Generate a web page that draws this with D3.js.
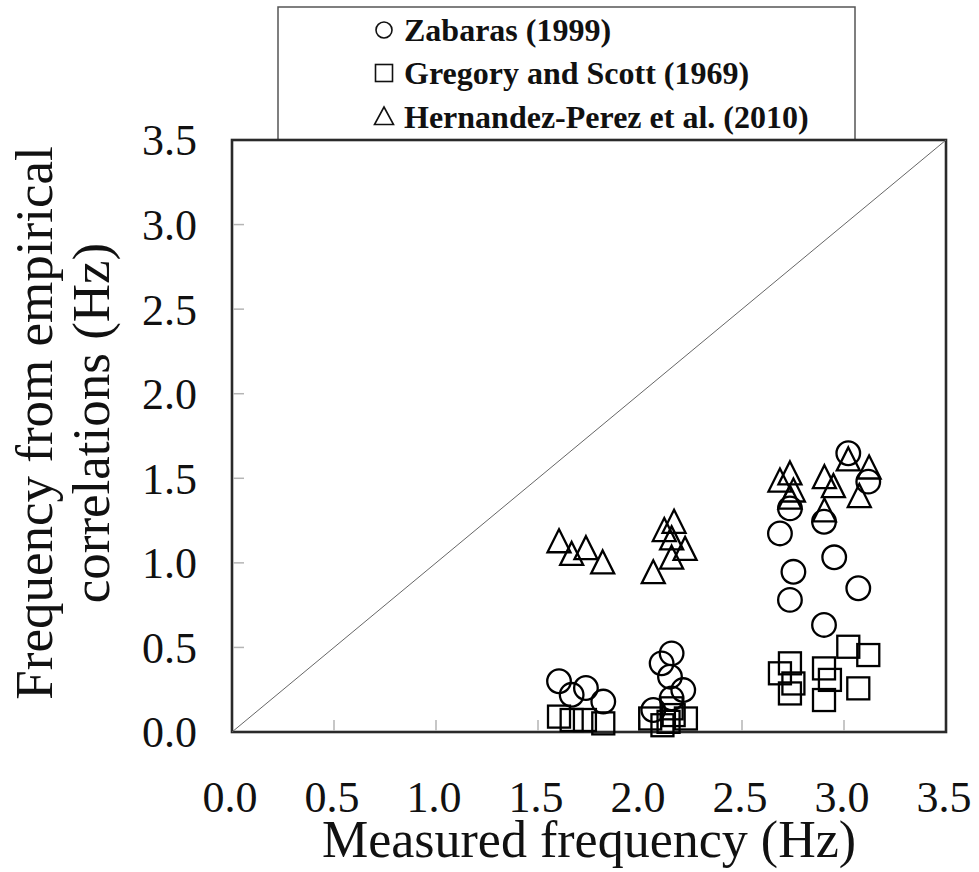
<!DOCTYPE html>
<html><head><meta charset="utf-8">
<script src="https://cdn.jsdelivr.net/npm/d3@7"></script>
<style>body{margin:0;background:#fff;}svg{display:block;}</style>
</head><body>
<svg id="chart" width="979" height="872"></svg>
<script>
// ---- data ----
const seriesNames = ["Zabaras (1999)", "Gregory and Scott (1969)", "Hernandez-Perez et al. (2010)"];
const zabarasX = [1.603,1.665,1.735,1.82, 2.155,2.106,2.147,2.212,2.155,2.065, 2.686,2.735,2.752,2.735,2.902,2.952,2.902,3.07,3.021,3.119];
const zabarasY = [0.30,0.22,0.26,0.18, 0.465,0.406,0.327,0.248,0.199,0.13, 1.174,1.322,0.947,0.781,1.243,1.033,0.633,0.85,1.648,1.48];
const gregoryX = [1.603,1.665,1.73,1.82, 2.05,2.11,2.14,2.155,2.165,2.225, 2.686,2.735,2.752,2.735,2.902,2.931,3.021,3.119,3.07,2.902];
const gregoryY = [0.091,0.071,0.071,0.051, 0.08,0.04,0.06,0.14,0.10,0.08, 0.347,0.406,0.287,0.228,0.376,0.308,0.504,0.455,0.258,0.189];
const hernandezX = [1.603,1.665,1.735,1.817, 2.167,2.119,2.155,2.221,2.155,2.065, 2.686,2.735,2.752,2.735,2.904,2.948,3.021,3.123,3.075,2.904];
const hernandezY = [1.108,1.033,1.067,0.983, 1.223,1.174,1.125,1.063,1.011,0.925, 1.467,1.509,1.408,1.366,1.487,1.434,1.592,1.544,1.375,1.29];
const tickValues = [0,0.5,1.0,1.5,2.0,2.5,3.0,3.5];
const tickLabels = ["0.0","0.5","1.0","1.5","2.0","2.5","3.0","3.5"];
const xTitle = "Measured frequency (Hz)";
const yTitleLines = ["Frequency from empirical", "correlations (Hz)"];

// ---- layout ----
const svg = d3.select("#chart");
const x = d3.scaleLinear().domain([0,3.5]).range([232,946]);
const y = d3.scaleLinear().domain([0,3.5]).range([732,140]);
const serif = "'Liberation Serif','Times New Roman',serif";

// legend box
const lg = svg.append("g");
lg.append("rect").attr("x",278).attr("y",7).attr("width",577).attr("height",140)
  .attr("fill","#fff").attr("stroke","#555").attr("stroke-width",1.5);

// plot frame
svg.append("rect").attr("x",x(0)).attr("y",y(3.5)).attr("width",x(3.5)-x(0)).attr("height",y(0)-y(3.5))
  .attr("fill","#fff").attr("stroke","#2a2a2a").attr("stroke-width",2.6);

// ticks (inward)
svg.append("g").selectAll("line").data(tickValues.slice(1,-1)).join("line")
  .attr("x1",d=>x(d)).attr("x2",d=>x(d)).attr("y1",y(0)-1).attr("y2",y(0)-12)
  .attr("stroke","#b5b5b5").attr("stroke-width",1.5);
svg.append("g").selectAll("line").data(tickValues.slice(1,-1)).join("line")
  .attr("y1",d=>y(d)).attr("y2",d=>y(d)).attr("x1",x(0)+1).attr("x2",x(0)+12)
  .attr("stroke","#b5b5b5").attr("stroke-width",1.5);

// tick labels
svg.append("g").selectAll("text").data(tickValues).join("text")
  .attr("x",d=>x(d)-2).attr("y",812).attr("text-anchor","middle")
  .attr("font-family",serif).attr("font-size",44).attr("fill","#111")
  .text((d,i)=>tickLabels[i]);
svg.append("g").selectAll("text").data(tickValues).join("text")
  .attr("x",197).attr("y",d=>y(d)).attr("dy","0.35em").attr("text-anchor","end")
  .attr("font-family",serif).attr("font-size",44).attr("fill","#111")
  .text((d,i)=>tickLabels[i]);

// axis titles
svg.append("text").attr("x",(x(0)+x(3.5))/2).attr("y",857).attr("text-anchor","middle")
  .attr("font-family",serif).attr("font-size",52).attr("fill","#111").text(xTitle);
const yt = svg.append("text").attr("transform","translate(0,423) rotate(-90)")
  .attr("text-anchor","middle").attr("font-family",serif).attr("font-size",53).attr("fill","#111");
yt.append("tspan").attr("x",0).attr("y",52).text(yTitleLines[0]);
yt.append("tspan").attr("x",0).attr("y",109).text(yTitleLines[1]);

// diagonal 1:1 line
svg.append("line").attr("x1",x(0)).attr("y1",y(0)).attr("x2",x(3.5)).attr("y2",y(3.5))
  .attr("stroke","#666").attr("stroke-width",1);

// markers
const mk = {stroke:"#000", sw:2.3};
const R = 11.8, S = 22, TW = 23, TH = 23;
function triPath(w,h){ return `M0,${-2*h/3}L${w/2},${h/3}L${-w/2},${h/3}Z`; }

svg.append("g").selectAll("rect").data(d3.range(gregoryX.length)).join("rect")
  .attr("x",i=>x(gregoryX[i])-S/2).attr("y",i=>y(gregoryY[i])-S/2).attr("width",S).attr("height",S)
  .attr("fill","none").attr("stroke",mk.stroke).attr("stroke-width",mk.sw);
svg.append("g").selectAll("circle").data(d3.range(zabarasX.length)).join("circle")
  .attr("cx",i=>x(zabarasX[i])).attr("cy",i=>y(zabarasY[i])).attr("r",R)
  .attr("fill","none").attr("stroke",mk.stroke).attr("stroke-width",mk.sw);
svg.append("g").selectAll("path").data(d3.range(hernandezX.length)).join("path")
  .attr("transform",i=>`translate(${x(hernandezX[i])},${y(hernandezY[i])})`)
  .attr("d",triPath(TW,TH))
  .attr("fill","none").attr("stroke",mk.stroke).attr("stroke-width",mk.sw).attr("stroke-linejoin","miter");

// legend entries
const legY = [30,73,117];
const legSym = ["circle","square","triangle"];
legSym.forEach((s,i)=>{
  const g = lg.append("g").attr("transform",`translate(384,${legY[i]})`);
  if(s==="circle") g.append("circle").attr("r",8).attr("fill","none").attr("stroke","#111").attr("stroke-width",1.6);
  if(s==="square") g.append("rect").attr("x",-8.5).attr("y",-8.5).attr("width",17).attr("height",17).attr("fill","none").attr("stroke","#111").attr("stroke-width",1.6);
  if(s==="triangle") g.append("path").attr("d","M0,-10L9.5,7.5L-9.5,7.5Z").attr("fill","none").attr("stroke","#111").attr("stroke-width",1.6);
  lg.append("text").attr("x",404).attr("y",legY[i]).attr("dy","0.35em")
    .attr("font-family",serif).attr("font-weight","bold").attr("font-size",32).attr("fill","#111")
    .text(seriesNames[i]);
});
</script>
</body></html>
